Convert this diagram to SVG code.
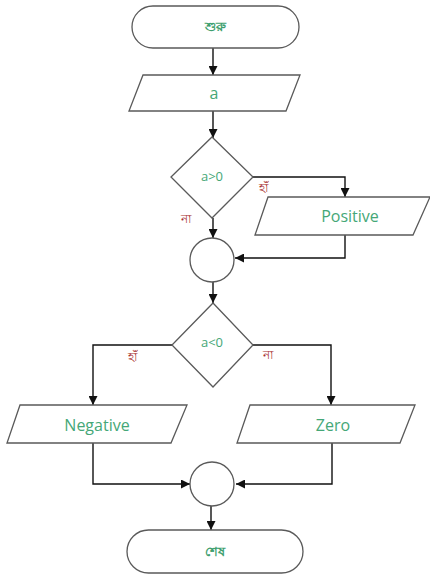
<svg xmlns="http://www.w3.org/2000/svg" width="430" height="577" viewBox="0 0 430 577">
<style>
.shape{fill:#fff;stroke:#5a5a5a;stroke-width:1.3}
.conn{fill:none;stroke:#111;stroke-width:1.4}
.t{font-family:"Open Sans","Liberation Sans",sans-serif;fill:#45a777;text-anchor:middle;dominant-baseline:central}
.bn{font-family:"Noto Sans",sans-serif;fill:#3f9f6f;text-anchor:middle;dominant-baseline:central;font-size:13px;font-weight:bold}
.lbl{font-family:"Noto Sans",sans-serif;fill:#a83232;font-size:12px;text-anchor:middle;dominant-baseline:central}
</style>
<defs>
<marker id="ah" viewBox="0 0 10 10" refX="10" refY="5" markerWidth="10" markerHeight="9" markerUnits="userSpaceOnUse" orient="auto">
<path d="M0,0 L10,5 L0,10 z" fill="#111"/>
</marker>
</defs>
<g id="connectors">
<line class="conn" x1="213" y1="48" x2="213" y2="75" marker-end="url(#ah)"/>
<line class="conn" x1="213" y1="111" x2="213" y2="138" marker-end="url(#ah)"/>
<polyline class="conn" points="253,177 345,177 345,197" marker-end="url(#ah)"/>
<line class="conn" x1="213" y1="218" x2="213" y2="238" marker-end="url(#ah)"/>
<polyline class="conn" points="345,235 345,258 235,258" marker-end="url(#ah)"/>
<line class="conn" x1="213" y1="282" x2="213" y2="303" marker-end="url(#ah)"/>
<polyline class="conn" points="172,345 93,345 93,405" marker-end="url(#ah)"/>
<polyline class="conn" points="253,345 331,345 331,405" marker-end="url(#ah)"/>
<polyline class="conn" points="93,443 93,484 190,484" marker-end="url(#ah)"/>
<polyline class="conn" points="332,443 332,484 236,484" marker-end="url(#ah)"/>
<line class="conn" x1="211" y1="506" x2="211" y2="530" marker-end="url(#ah)"/>
<text class="lbl" x="263" y="187">হাঁ</text>
<text class="lbl" x="186" y="218">না</text>
<text class="lbl" x="132" y="356">হাঁ</text>
<text class="lbl" x="268" y="354">না</text>
</g>
<g id="start">
<rect class="shape" x="132" y="6" width="167" height="42" rx="21"/>
<text class="bn" x="215" y="26">শুরু</text>
</g>
<g id="input-a">
<polygon class="shape" points="143,75 300,75 286,111 129,111"/>
<text class="t" x="214" y="93" font-size="16">a</text>
</g>
<g id="dec1">
<polygon class="shape" points="212,137 253,177 212,218 171,177"/>
<text class="t" x="212" y="176" font-size="13">a&gt;0</text>
</g>
<g id="positive">
<polygon class="shape" points="268,197 430,197 413,235 255,235"/>
<text class="t" x="350" y="216" font-size="16">Positive</text>
</g>
<g id="join1">
<circle class="shape" cx="212" cy="260" r="22"/>
</g>
<g id="dec2">
<polygon class="shape" points="213,303 253,345 213,387 172,345"/>
<text class="t" x="212" y="342" font-size="13">a&lt;0</text>
</g>
<g id="negative">
<polygon class="shape" points="20,405 187,405 171,443 7,443"/>
<text class="t" x="97" y="425" font-size="16">Negative</text>
</g>
<g id="zero">
<polygon class="shape" points="250,405 415,405 400,443 237,443"/>
<text class="t" x="333" y="425" font-size="16">Zero</text>
</g>
<g id="join2">
<circle class="shape" cx="212" cy="484" r="22"/>
</g>
<g id="end">
<rect class="shape" x="127" y="530" width="176" height="43" rx="21.5"/>
<text class="bn" x="215" y="551">শেষ</text>
</g>
</svg>
